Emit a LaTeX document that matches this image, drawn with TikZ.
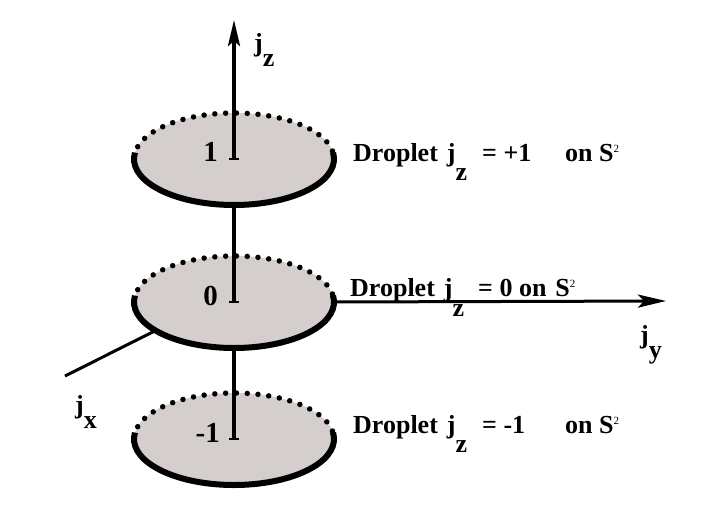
\documentclass[tikz,border=0pt]{standalone}
\usepackage{fontspec}
\setmainfont{Liberation Serif}
\usetikzlibrary{arrows.meta,shapes.geometric}
\definecolor{diskgray}{RGB}{212,206,204}
\begin{document}
\begin{tikzpicture}[x=1pt,y=-1pt,
  disk/.style={ellipse, fill=diskgray, minimum width=200pt, minimum height=92pt, inner sep=0pt, outer sep=0pt},
  rimsolid/.style={line width=6pt},
  rimdots/.style={line width=5.5pt, line cap=round, dash pattern=on 0pt off 10.8pt},
  axisline/.style={line width=3.5pt},
  foot/.style={line width=2.5pt},
  lbl/.style={font=\fontsize{26}{28}\selectfont\bfseries, inner sep=0pt},
  digit/.style={font=\fontsize{29}{30}\selectfont\bfseries, inner sep=0pt},
  ]
\useasboundingbox (0,0) rectangle (708,524);

% disks
\foreach \n/\y in {top/159, mid/302, bot/439}{
  \node[disk] (\n) at (234,\y) {};
  \draw[rimdots] (\n.center) ++(10:100pt and 46pt) arc[start angle=10, end angle=170, x radius=100pt, y radius=46pt];
  \draw[rimsolid] (\n.center) ++(172:100pt and 46pt) arc[start angle=172, end angle=368, x radius=100pt, y radius=46pt];
  \draw[foot] (\n.center) ++(-5,0) -- ++(10,0);
}

% coordinates for free ends
\coordinate (ztip) at (234,20);
\coordinate (ytip) at (666,301);
\coordinate (xend) at (65,376);

% axes
\draw[axisline, -{Stealth[length=26pt,width=12pt,inset=5pt]}] (top.center) -- (ztip);
\draw[axisline] (mid.center) -- (top.south);
\draw[axisline] (bot.center) -- (mid.south);
\draw[line width=3pt, -{Stealth[length=28pt,width=13pt,inset=6pt]}] (mid.east) -- (ytip);
\draw[line width=3pt] (mid.200) -- (xend);

% disk labels
\node[digit, anchor=base east] (l1) at (218,161) {1};
\node[digit, anchor=base east] (l0) at (218,305) {0};
\node[digit, anchor=base east] (lm1) at (220,442) {-1};

% axis labels
\node[lbl, anchor=base west] (jz) at (254,52) {j\raisebox{-15pt}{z}};
\node[lbl, anchor=base west] (jy) at (640,343) {j\raisebox{-15pt}{y}};
\node[lbl, anchor=base west] (jx) at (75,413) {j\raisebox{-15pt}{x}};

% droplet texts
\node[lbl, anchor=base west] (d1) at (353,161) {Droplet\hspace{9pt}j\raisebox{-19pt}{z}};
\node[lbl, anchor=base west] (e1) at (482,161) {= +1};
\node[lbl, anchor=base west] (s1) at (565,161) {on S\raisebox{9pt}{\fontsize{11}{11}\selectfont\mdseries 2}};
\node[lbl, anchor=base west] (d0) at (350,296) {Droplet\hspace{9pt}j\raisebox{-20pt}{z}};
\node[lbl, anchor=base west] (e0) at (478,296) {= 0 on\hspace{9pt}S\raisebox{9pt}{\fontsize{11}{11}\selectfont\mdseries 2}};
\node[lbl, anchor=base west] (dm1) at (353,433) {Droplet\hspace{9pt}j\raisebox{-19pt}{z}};
\node[lbl, anchor=base west] (em1) at (482,433) {= -1};
\node[lbl, anchor=base west] (sm1) at (565,433) {on S\raisebox{9pt}{\fontsize{11}{11}\selectfont\mdseries 2}};
\end{tikzpicture}
\end{document}
